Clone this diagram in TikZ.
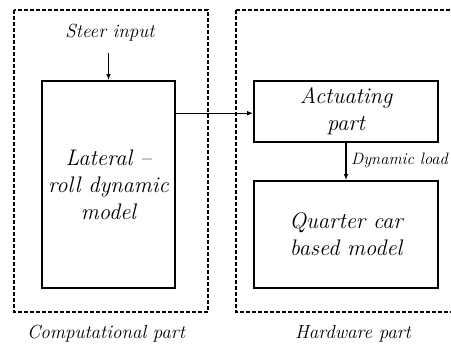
\documentclass[tikz,border=0pt]{standalone}
\usetikzlibrary{arrows.meta,calc}
\begin{document}
\begin{tikzpicture}[x=1pt,y=-1pt,
  blk/.style={draw,line width=1.6pt,inner sep=0pt,align=center,font=\fontsize{22.5}{27}\selectfont\itshape},
  grp/.style={draw,line width=1.4pt,dash pattern=on 4pt off 2pt},
  lbl/.style={inner sep=0pt,font=\fontsize{19}{22}\selectfont\itshape},
  arr/.style={-{Latex[length=6pt,width=4.5pt]},line width=1.2pt}]
\clip (0,0) rectangle (451,344);
\fill[white] (0,0) rectangle (451,344);
\draw[grp] (14,10) rectangle (208,312) coordinate (gl);
\draw[grp] (236,10) rectangle (455,312) coordinate (gr);
\node[blk,minimum width=133pt,minimum height=207pt] (lat) at (108.5,184.5) {Lateral --\\roll dynamic\\model};
\node[blk,minimum width=184pt,minimum height=61pt] (act) at (346,111.5) {Actuating\\part};
\node[blk,minimum width=184pt,minimum height=107pt] (qc) at (346,234.5) {Quarter car\\based model};
\node[lbl] (steer) at (110,33) {Steer input};
\coordinate (sin) at (108.5,53);
\draw[arr] (sin) -- (lat.north);
\coordinate (p) at ($(lat.north east)+(0,33)$);
\draw[arr] (p) -- (p -| act.west);
\draw[arr] (act.south) -- (qc.north);
\node[lbl,anchor=west,font=\fontsize{16.5}{19}\selectfont\itshape] (dl) at (351,160) {Dynamic load};
\node[lbl] (comp) at (106,334) {Computational part};
\node[lbl] (hw) at (353,334) {Hardware part};
\end{tikzpicture}
\end{document}
